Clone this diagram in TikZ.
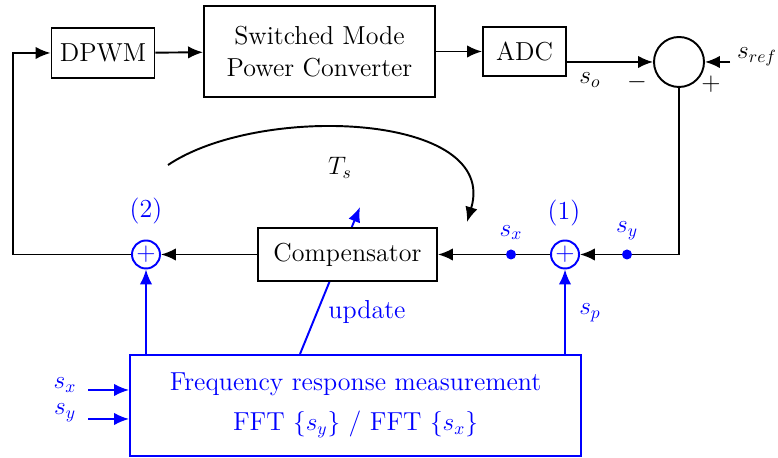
\documentclass[tikz,border=0pt]{standalone}
\usepackage{amsmath}
\usetikzlibrary{arrows.meta,positioning,calc}

\begin{document}
\begin{tikzpicture}[font=\fontsize{14.8pt}{18pt}\selectfont,line width=1.1pt,
  >={Latex[length=3mm,width=2.5mm]},
  blk/.style={draw,fill=white,align=center,inner sep=2pt},
  adder/.style={draw=blue,text=blue,circle,inner sep=0pt,
                minimum size=0.56cm,font=\Large,fill=white},
  tap/.style={circle,fill=blue,inner sep=0pt,minimum size=0.2cm}]
\useasboundingbox (0,0) rectangle (15.56,9.16);

% ------------- forward path -------------
\node[blk,minimum width=2.06cm,minimum height=1cm] (dpwm) at (2.06,8.10) {DPWM};
\node[blk,minimum width=4.62cm,minimum height=1.82cm] (smpc) at (6.39,8.13)
  {Switched Mode\\Power Converter};
\node[blk,minimum width=1.66cm,minimum height=0.98cm] (adc) at (10.49,8.13) {ADC};
\node[draw,circle,minimum size=1cm] (err) at (13.58,7.92) {};
\coordinate (ref) at (14.6,7.92);
\node (sref) at (15.14,8.02) {$s_{ref}$};
\draw[->] (dpwm) -- (smpc);
\draw[->] (smpc) -- (adc);
\draw[->] (adc.east |- err.west) -- (err.west);
\draw[->] (ref) -- (err.east);
\node (so) at (11.8,7.56) {$s_o$};
\node (mns) at (12.74,7.52) {$-$};
\node (pls) at (14.22,7.48) {$+$};

% ------------- measurement block -------------
\node[draw=blue,text=blue,align=center,minimum width=9.02cm,minimum height=2.02cm]
  (frm) at (7.11,1.05)
  {Frequency response measurement\\[5pt] FFT $\{s_y\}$ / FFT $\{s_x\}$};
\coordinate (upd) at (7.2,5.02);
\draw[->,blue] (frm.north -| 6.0,0) -- (upd);
\node[blue] (updl) at (7.34,2.92) {update};

% ------------- loop -------------
\node[blk,minimum width=3.58cm,minimum height=1.06cm] (comp) at (6.95,4.07) {Compensator};
\node[adder] (s1) at (11.3,4.07) {$+$};
\node[adder] (s2) at (2.92,4.07) {$+$};
\coordinate (lft) at (0.26,4.07);
\draw[->] (err.south) |- (s1.east);
\draw[->] (s1.west) -- (comp.east);
\draw[->] (comp.west) -- (s2.east);
\draw[->] (s2.west) -- (lft) |- (dpwm.west);
\node[tap] (sy) at (12.54,4.07) {};
\node[tap] (sx) at (10.22,4.07) {};
\node[blue,above=1pt of sy] (syl) {$s_y$};
\node[blue,above=1pt of sx] (sxl) {$s_x$};
\node[blue] (n1) at (11.28,4.9) {(1)};
\node[blue] (n2) at (2.92,4.94) {(2)};
\draw[->,blue] (frm.north -| s1) -- (s1.south);
\draw[->,blue] (frm.north -| s2) -- (s2.south);
\node[blue] (spl) at (11.8,2.9) {$s_p$};

% ------------- sample time -------------
\coordinate (ts0) at (3.36,5.86);
\coordinate (ts1) at (9.34,4.72);
\draw[->] (ts0) .. controls (5.2,7.1) and (10.0,6.9) .. (ts1);
\node (tsl) at (6.8,5.8) {$T_s$};

% ------------- inputs -------------
\node[blue] (inx) at (1.3,1.46) {$s_x$};
\node[blue] (iny) at (1.3,0.9) {$s_y$};
\coordinate (ax) at (1.76,1.36);
\coordinate (ay) at (1.76,0.78);
\draw[->,blue] (ax) -- (ax -| frm.west);
\draw[->,blue] (ay) -- (ay -| frm.west);
\end{tikzpicture}
\end{document}
